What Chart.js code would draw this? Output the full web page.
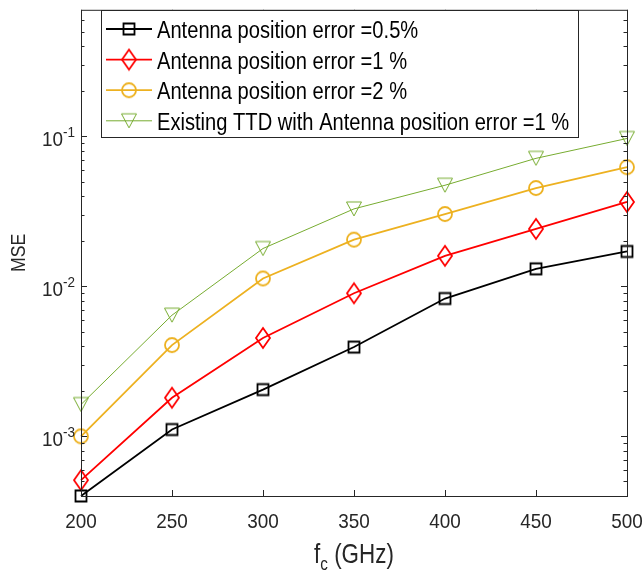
<!DOCTYPE html>
<html>
<head>
<meta charset="utf-8">
<script src="https://cdn.jsdelivr.net/npm/chart.js@4/dist/chart.umd.min.js"></script>
<style>
  body { margin: 0; background: #fff; }
  canvas { display: block; }
</style>
</head>
<body>
<canvas id="mseChart" width="643" height="570"></canvas>
<script>
// carrier frequency (GHz) and MSE per case
const freqs = [200, 250, 300, 350, 400, 450, 500];
const err05 = [4.0e-4, 1.11e-3, 2.05e-3, 3.94e-3, 8.3e-3, 0.0131, 0.0171];
const err1 = [5.1e-4, 1.81e-3, 4.53e-3, 9.0e-3, 0.0160, 0.0242, 0.0366];
const err2 = [1.0e-3, 4.06e-3, 0.0113, 0.0205, 0.0304, 0.0453, 0.0624];
const ttd1 = [1.63e-3, 6.43e-3, 0.0179, 0.0329, 0.0473, 0.0715, 0.097];
const seriesNames = [
  'Antenna position error =0.5%',
  'Antenna position error =1 %',
  'Antenna position error =2 %',
  'Existing TTD with Antenna position error =1 %'
];
const xTicks = [200, 250, 300, 350, 400, 450, 500];
const yDecades = [-3, -2, -1];
const yMin = 4e-4, yMax = 0.7;

const AXIS = '#262626';
const FACE = '"Liberation Sans", Arial, Helvetica, sans-serif';

// text is a slightly condensed Helvetica look: sz = font px, sq = horizontal squeeze
function textWidth(ctx, s, sz, sq) {
  ctx.font = sz + 'px ' + FACE;
  return ctx.measureText(s).width * sq;
}

function drawText(ctx, s, x, y, sz, sq, align, color) {
  ctx.save();
  ctx.translate(x, y);
  ctx.scale(sq, 1);
  ctx.font = sz + 'px ' + FACE;
  ctx.textAlign = align;
  ctx.textBaseline = 'alphabetic';
  ctx.fillStyle = color || AXIS;
  ctx.fillText(s, 0, 0);
  ctx.restore();
}

// open markers drawn once into small canvases
function marker(kind, color, lw) {
  const c = document.createElement('canvas');
  c.width = 24; c.height = 24;
  const g = c.getContext('2d');
  g.strokeStyle = color; g.lineWidth = lw;
  g.beginPath();
  if (kind === 'square') g.rect(6.5, 6.5, 11, 11);
  else if (kind === 'diamond') { g.moveTo(12, 2); g.lineTo(19, 12); g.lineTo(12, 22); g.lineTo(5, 12); g.closePath(); }
  else if (kind === 'circle') g.arc(12, 12, 7, 0, Math.PI * 2);
  else { g.moveTo(4.5, 5); g.lineTo(19.5, 5); g.lineTo(12, 19); g.closePath(); }
  g.stroke();
  return c;
}

function series(label, data, color, kind, lw) {
  return {
    label, data: data.map((v, i) => ({ x: freqs[i], y: v })),
    borderColor: color, borderWidth: lw, backgroundColor: color,
    pointStyle: marker(kind, color, lw), pointRadius: 8,
    tension: 0, clip: false
  };
}

const datasets = [
  series(seriesNames[0], err05, '#000000', 'square', 1.8),
  series(seriesNames[1], err1, '#ff0000', 'diamond', 1.8),
  series(seriesNames[2], err2, '#edb120', 'circle', 1.8),
  series(seriesNames[3], ttd1, '#77ac30', 'triangle', 1)
];

// MATLAB-style axes box, inward ticks, labels and legend
const axesPlugin = {
  id: 'axesBox',
  afterDatasetsDraw(chart) {
    const ctx = chart.ctx, a = chart.chartArea;
    const xs = chart.scales.x, ys = chart.scales.y;
    ctx.save();
    ctx.strokeStyle = AXIS; ctx.lineWidth = 1;
    ctx.strokeRect(a.left + 0.5, a.top + 0.5, a.right - a.left, a.bottom - a.top);

    // x ticks (bottom and top)
    ctx.beginPath();
    xTicks.forEach(t => {
      const px = Math.round(xs.getPixelForValue(t)) + 0.5;
      ctx.moveTo(px, a.bottom); ctx.lineTo(px, a.bottom - 6);
      ctx.moveTo(px, a.top); ctx.lineTo(px, a.top + 6);
    });
    // y ticks, major at decades, minor at 2..9
    for (let d = -4; d <= 0; d++) {
      for (let m = 1; m <= 9; m++) {
        const v = m * Math.pow(10, d);
        if (v < yMin || v > yMax) continue;
        const py = Math.round(ys.getPixelForValue(v)) + 0.5;
        const len = m === 1 ? 6 : 3.5;
        ctx.moveTo(a.left, py); ctx.lineTo(a.left + len, py);
        ctx.moveTo(a.right, py); ctx.lineTo(a.right - len, py);
      }
    }
    ctx.stroke();

    // tick labels
    xTicks.forEach(t => drawText(ctx, String(t), xs.getPixelForValue(t), 528, 21, 0.9, 'center'));
    yDecades.forEach(d => {
      const py = ys.getPixelForValue(Math.pow(10, d));
      const sup = String(d);
      const right = a.left - 6;
      const supW = textWidth(ctx, sup, 15, 0.9);
      drawText(ctx, sup, right - supW, py + 1, 15, 0.9, 'left');
      drawText(ctx, '10', right - supW, py + 10, 21, 0.9, 'right');
    });

    // axis titles
    const wf = textWidth(ctx, 'f', 28, 0.8);
    const wc = textWidth(ctx, 'c', 19, 0.8);
    const rest = ' (GHz)';
    const wr = textWidth(ctx, rest, 28, 0.8);
    const tx = (a.left + a.right) / 2 - (wf + wc + wr) / 2;
    drawText(ctx, 'f', tx, 563, 28, 0.8, 'left');
    drawText(ctx, 'c', tx + wf, 570, 19, 0.8, 'left');
    drawText(ctx, rest, tx + wf + wc, 563, 28, 0.8, 'left');

    ctx.save();
    ctx.translate(25, (a.top + a.bottom) / 2);
    ctx.rotate(-Math.PI / 2);
    drawText(ctx, 'MSE', 0, 0, 21, 0.84, 'center');
    ctx.restore();

    // legend
    const lx = 101.5, ly = 10.5, lw = 477, lh = 127;
    ctx.fillStyle = '#fff';
    ctx.fillRect(lx, ly, lw, lh);
    ctx.strokeStyle = AXIS; ctx.lineWidth = 1;
    ctx.strokeRect(lx, ly, lw, lh);
    chart.data.datasets.forEach((ds, i) => {
      const base = 38 + i * 30.6;
      const ry = base - 9;
      ctx.strokeStyle = ds.borderColor; ctx.lineWidth = ds.borderWidth;
      ctx.beginPath(); ctx.moveTo(106, ry); ctx.lineTo(152, ry); ctx.stroke();
      const img = ds.pointStyle;
      ctx.drawImage(img, 129 - img.width / 2, ry - img.height / 2);
      drawText(ctx, ds.label, 157, base, 23, 0.875, 'left', '#000');
    });
    ctx.restore();
  }
};

new Chart(document.getElementById('mseChart'), {
  type: 'line',
  data: { datasets },
  options: {
    responsive: false,
    animation: false,
    events: [],
    layout: { padding: { left: 81, right: 16, top: 6, bottom: 74 } },
    plugins: { legend: { display: false }, tooltip: { enabled: false } },
    scales: {
      x: { type: 'linear', min: 200, max: 500, display: false },
      y: { type: 'logarithmic', min: yMin, max: yMax, display: false }
    }
  },
  plugins: [axesPlugin]
});
</script>
</body>
</html>
